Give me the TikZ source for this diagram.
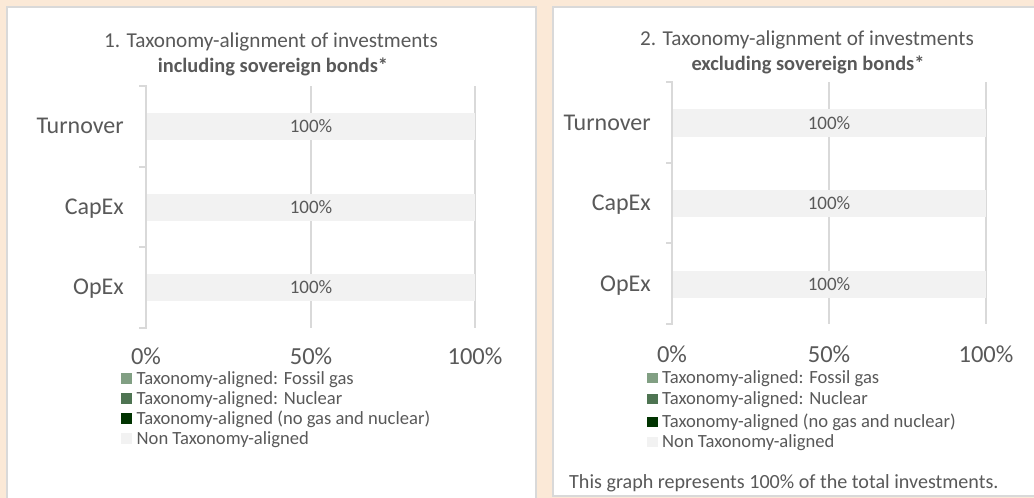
\documentclass[tikz,border=0pt]{standalone}
\usepackage{fontspec}
\setmainfont{Carlito}
\definecolor{beige}{HTML}{FBE9D7}
\definecolor{edge}{HTML}{D9D9D9}
\definecolor{txt}{HTML}{595959}
\definecolor{barfill}{HTML}{F2F2F2}
\definecolor{gasc}{HTML}{819F83}
\definecolor{nucc}{HTML}{4E7452}
\definecolor{darkc}{HTML}{003300}
\begin{document}
\begin{tikzpicture}[x=1pt,y=-1pt,
  border/.style={draw=edge,line width=2pt},
  axisline/.style={draw=edge,line width=2pt},
  gridline/.style={draw=edge,line width=1.6pt},
  bar/.style={fill=barfill},
  ttl/.style={text=txt,font=\fontsize{21.2}{24}\selectfont,inner sep=0pt,anchor=base},
  ttlb/.style={text=txt,font=\fontsize{20.4}{24}\selectfont\bfseries,inner sep=0pt,anchor=base},
  cat/.style={text=txt,font=\fontsize{24}{27}\selectfont,inner sep=0pt,anchor=base east},
  tick/.style={text=txt,font=\fontsize{24.5}{28}\selectfont,inner sep=0pt,anchor=base,text depth=0pt},
  val/.style={text=txt,font=\fontsize{19}{22}\selectfont,inner sep=0pt,anchor=base},
  leg/.style={text=txt,font=\fontsize{18.6}{20}\selectfont,inner sep=0pt,anchor=base west,text height=12pt},
  note/.style={text=txt,font=\fontsize{20.1}{22}\selectfont,inner sep=0pt,anchor=base west}]
\useasboundingbox (0,0) rectangle (1034,498);
\fill[beige] (0,0) rectangle (1034,498);
% panels
\fill[white] (7,7) rectangle (536,500);
\draw[border] (7,500) -- (7,7) -- (536,7) -- (536,500);
\fill[white] (553,7) rectangle (1036,496);
\draw[border] (1036,7) -- (553,7) -- (553,496) -- (1036,496);

% ===== Chart 1 =====
\node[ttl] (t1a) at (271,47) {1. Taxonomy-alignment of investments};
\node[ttlb] (t1b) at (273,72) {including sovereign bonds*};
\draw[gridline] (311,86) -- (311,328);
\draw[gridline] (475,86) -- (475,328);
\fill[bar] (147,113) rectangle (475,140);
\fill[bar] (147,193.5) rectangle (475,220.5);
\fill[bar] (147,274) rectangle (475,301);
\draw[axisline] (139,86) -- (146,86) -- (146,328) -- (139,328);
\draw[axisline] (139,167) -- (146,167);
\draw[axisline] (139,247) -- (146,247);
\node[val] (v1a) at (311,132.5) {100\%};
\node[val] (v1b) at (311,213) {100\%};
\node[val] (v1c) at (311,293.5) {100\%};
\node[cat] (c1a) at (124,133.5) {Turnover};
\node[cat] (c1b) at (124,214) {CapEx};
\node[cat] (c1c) at (124,294.5) {OpEx};
\node[tick] (x1a) at (146,364) {0\%};
\node[tick] (x1b) at (311,364) {50\%};
\node[tick] (x1c) at (475,364) {100\%};
\fill[gasc] (121,372.5) rectangle (132,383.5);
\fill[nucc] (121,393) rectangle (132,404);
\fill[darkc] (121,413) rectangle (132,424);
\fill[barfill] (121,433) rectangle (132,444);
\node[leg] (l1a) at (136.5,384) {Taxonomy-aligned: Fossil gas};
\node[leg] (l1b) at (136.5,404) {Taxonomy-aligned: Nuclear};
\node[leg] (l1c) at (136.5,424) {Taxonomy-aligned (no gas and nuclear)};
\node[leg] (l1d) at (136.5,444) {Non Taxonomy-aligned};

% ===== Chart 2 =====
\node[ttl] (t2a) at (807,45) {2. Taxonomy-alignment of investments};
\node[ttlb] (t2b) at (808,70) {excluding sovereign bonds*};
\draw[gridline] (829,82) -- (829,324);
\draw[gridline] (986,82) -- (986,324);
\fill[bar] (673,109) rectangle (986,136.5);
\fill[bar] (673,190) rectangle (986,217);
\fill[bar] (673,271) rectangle (986,298);
\draw[axisline] (666,82) -- (672,82) -- (672,324) -- (666,324);
\draw[axisline] (666,163) -- (672,163);
\draw[axisline] (666,243) -- (672,243);
\node[val] (v2a) at (829,129) {100\%};
\node[val] (v2b) at (829,209.5) {100\%};
\node[val] (v2c) at (829,290.5) {100\%};
\node[cat] (c2a) at (651,130) {Turnover};
\node[cat] (c2b) at (651,210.5) {CapEx};
\node[cat] (c2c) at (651,291.5) {OpEx};
\node[tick] (x2a) at (672,362.5) {0\%};
\node[tick] (x2b) at (829,362.5) {50\%};
\node[tick] (x2c) at (986,362.5) {100\%};
\fill[gasc] (647,373) rectangle (658,383);
\fill[nucc] (647,394) rectangle (658,404);
\fill[darkc] (647,416.5) rectangle (658,426.5);
\fill[barfill] (647,437) rectangle (658,447);
\node[leg] (l2a) at (662,383.5) {Taxonomy-aligned: Fossil gas};
\node[leg] (l2b) at (662,404.5) {Taxonomy-aligned: Nuclear};
\node[leg] (l2c) at (662,427) {Taxonomy-aligned (no gas and nuclear)};
\node[leg] (l2d) at (662,447.5) {Non Taxonomy-aligned};
\node[note] (n2) at (569,488) {This graph represents 100\% of the total investments.};
\end{tikzpicture}
\end{document}
